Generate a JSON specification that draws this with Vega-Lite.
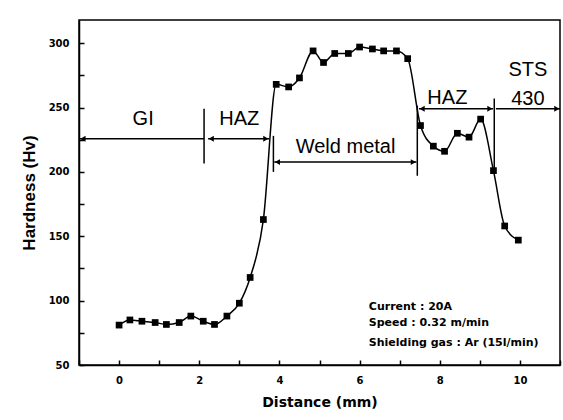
{
  "$schema": "https://vega.github.io/schema/vega-lite/v6.json",
  "width": 481,
  "height": 345,
  "autosize": {"type": "none"},
  "padding": {"left": 79, "top": 20, "right": 3, "bottom": 55},
  "background": "white",
  "config": {
    "view": {"stroke": "black", "strokeWidth": 1.5},
    "axis": {
      "domainColor": "black",
      "domainWidth": 1.5,
      "tickColor": "black",
      "tickWidth": 1.5,
      "tickSize": -5,
      "grid": false,
      "labelFont": "DejaVu Sans",
      "labelFontWeight": "bold",
      "labelFontSize": 10,
      "labelColor": "black",
      "titleFont": "DejaVu Sans",
      "titleFontWeight": "bold",
      "titleColor": "black"
    }
  },
  "datasets": {
    "hardness": [
      {"d": 0.0, "h": 81}, {"d": 0.27, "h": 85}, {"d": 0.57, "h": 84}, {"d": 0.9, "h": 83},
      {"d": 1.18, "h": 81.5}, {"d": 1.5, "h": 83}, {"d": 1.79, "h": 88}, {"d": 2.1, "h": 84},
      {"d": 2.38, "h": 81.5}, {"d": 2.69, "h": 88}, {"d": 3.0, "h": 98}, {"d": 3.27, "h": 118},
      {"d": 3.6, "h": 163}, {"d": 3.92, "h": 268}, {"d": 4.23, "h": 266}, {"d": 4.5, "h": 273},
      {"d": 4.84, "h": 294}, {"d": 5.1, "h": 285}, {"d": 5.38, "h": 292}, {"d": 5.72, "h": 292},
      {"d": 6.0, "h": 297}, {"d": 6.32, "h": 295.5}, {"d": 6.6, "h": 294}, {"d": 6.92, "h": 294},
      {"d": 7.2, "h": 288}, {"d": 7.52, "h": 236}, {"d": 7.84, "h": 220}, {"d": 8.12, "h": 216},
      {"d": 8.44, "h": 230}, {"d": 8.73, "h": 227}, {"d": 9.02, "h": 241}, {"d": 9.34, "h": 201},
      {"d": 9.62, "h": 158}, {"d": 9.96, "h": 147}
    ],
    "segments": [
      {"x1": -1, "x2": 2.12, "y1": 225.7, "y2": 225.7},
      {"x1": 2.22, "x2": 3.74, "y1": 225.7, "y2": 225.7},
      {"x1": 2.12, "x2": 2.12, "y1": 206.6, "y2": 249},
      {"x1": 3.85, "x2": 3.85, "y1": 200, "y2": 228},
      {"x1": 3.87, "x2": 7.42, "y1": 207.6, "y2": 207.6},
      {"x1": 7.44, "x2": 7.44, "y1": 197, "y2": 251.5},
      {"x1": 7.48, "x2": 9.33, "y1": 249, "y2": 249},
      {"x1": 9.36, "x2": 9.36, "y1": 201, "y2": 257},
      {"x1": 9.4, "x2": 11, "y1": 249, "y2": 249}
    ],
    "arrows": [
      {"x": -0.9, "y": 225.7, "dir": "left"},
      {"x": 2.3, "y": 225.7, "dir": "left"},
      {"x": 3.66, "y": 225.7, "dir": "right"},
      {"x": 3.95, "y": 207.6, "dir": "left"},
      {"x": 7.34, "y": 207.6, "dir": "right"},
      {"x": 7.56, "y": 249, "dir": "left"},
      {"x": 9.25, "y": 249, "dir": "right"},
      {"x": 10.92, "y": 249, "dir": "right"}
    ],
    "labels": [
      {"x": 0.6, "y": 241, "t": "GI"},
      {"x": 3.0, "y": 241, "t": "HAZ"},
      {"x": 5.65, "y": 219, "t": "Weld metal"},
      {"x": 8.19, "y": 257.7, "t": "HAZ"},
      {"x": 10.2, "y": 279.5, "t": "STS"},
      {"x": 10.2, "y": 257, "t": "430"}
    ],
    "notes": [
      {"x": 6.23, "y": 95.2, "t": "Current : 20A"},
      {"x": 6.23, "y": 82.6, "t": "Speed : 0.32 m/min"},
      {"x": 6.23, "y": 67.3, "t": "Shielding gas : Ar (15l/min)"}
    ]
  },
  "encoding": {
    "x": {
      "type": "quantitative",
      "scale": {"domain": [-1, 11], "nice": false, "zero": false},
      "axis": {
        "title": "Distance (mm)",
        "titleFontSize": 14,
        "titlePadding": 10,
        "values": [-1, 0, 1, 2, 3, 4, 5, 6, 7, 8, 9, 10, 11],
        "labelExpr": "datum.value % 2 == 0 ? datum.label : ''",
        "labelPadding": 15
      }
    },
    "y": {
      "type": "quantitative",
      "scale": {"domain": [50, 318], "nice": false, "zero": false},
      "axis": {
        "title": "Hardness (Hv)",
        "titleFont": "Liberation Sans",
        "titleFontSize": 17,
        "titlePadding": 10,
        "values": [50, 75, 100, 125, 150, 175, 200, 225, 250, 275, 300],
        "labelExpr": "datum.value % 50 == 0 ? datum.label : ''",
        "labelPadding": 15
      }
    }
  },
  "layer": [
    {
      "data": {"name": "segments"},
      "mark": {"type": "rule", "color": "black", "strokeWidth": 1.5},
      "encoding": {
        "x": {"field": "x1"},
        "x2": {"field": "x2"},
        "y": {"field": "y1"},
        "y2": {"field": "y2"}
      }
    },
    {
      "data": {"name": "arrows"},
      "mark": {"type": "point", "filled": true, "color": "black", "opacity": 1, "size": 35},
      "encoding": {
        "x": {"field": "x"},
        "y": {"field": "y"},
        "shape": {
          "field": "dir",
          "type": "nominal",
          "scale": {"domain": ["left", "right"], "range": ["triangle-left", "triangle-right"]},
          "legend": null
        }
      }
    },
    {
      "data": {"name": "hardness"},
      "mark": {"type": "line", "color": "black", "strokeWidth": 1.5, "interpolate": "monotone"},
      "encoding": {"x": {"field": "d"}, "y": {"field": "h"}}
    },
    {
      "data": {"name": "hardness"},
      "mark": {"type": "point", "shape": "square", "filled": true, "color": "black", "opacity": 1, "size": 45},
      "encoding": {"x": {"field": "d"}, "y": {"field": "h"}}
    },
    {
      "data": {"name": "labels"},
      "mark": {"type": "text", "font": "Liberation Sans", "fontSize": 20, "color": "black", "align": "center", "baseline": "middle"},
      "encoding": {"x": {"field": "x"}, "y": {"field": "y"}, "text": {"field": "t"}}
    },
    {
      "data": {"name": "notes"},
      "mark": {"type": "text", "font": "DejaVu Sans", "fontWeight": "bold", "fontSize": 11, "color": "black", "align": "left", "baseline": "middle"},
      "encoding": {"x": {"field": "x"}, "y": {"field": "y"}, "text": {"field": "t"}}
    }
  ]
}
